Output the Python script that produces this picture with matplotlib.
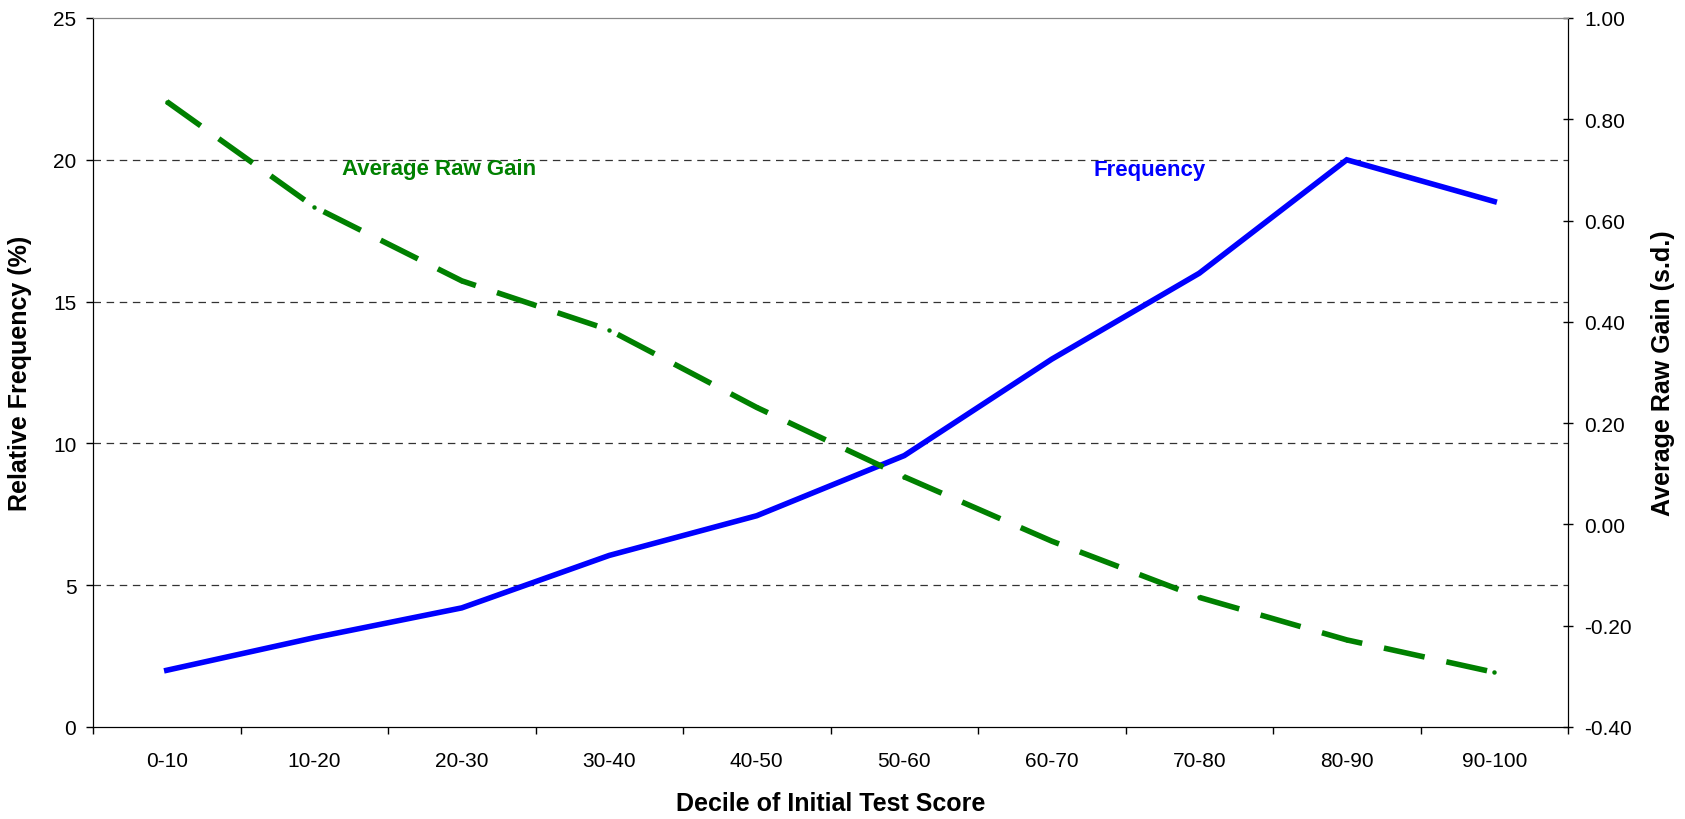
import matplotlib.pyplot as plt
import numpy as np

plt.rcParams['font.family'] = ['Liberation Sans', 'DejaVu Sans']

deciles = ['0-10', '10-20', '20-30', '30-40', '40-50',
           '50-60', '60-70', '70-80', '80-90', '90-100']
frequency = [2.0, 3.15, 4.2, 6.05, 7.45, 9.57, 12.97, 16.0, 20.0, 18.53]
raw_gain = [0.835, 0.627, 0.481, 0.384, 0.231, 0.094, -0.033, -0.144, -0.228, -0.292]

x = np.arange(len(deciles))

fig = plt.figure(figsize=(16.85, 8.2), dpi=100)
ax = fig.add_axes([93/1685, 1 - 728/820, (1568 - 93)/1685, (728 - 19)/820])
ax2 = ax.twinx()

# gridlines
for v in [5, 10, 15, 20]:
    ax.axhline(v, color='#333333', lw=0.9, ls=(0, (6, 4.5)), zorder=0)

ax.plot(x, frequency, color='#0000FF', lw=4, solid_joinstyle='miter', zorder=3)
ax2.plot(x, raw_gain, color='#008000', lw=4, dashes=(7.5, 4), dash_capstyle='butt',
         marker='o', markersize=3.2, markeredgewidth=0, zorder=3)

ax.set_xlim(-0.5, len(deciles) - 0.5)
ax.set_ylim(0, 25)
ax.set_yticks([0, 5, 10, 15, 20, 25])
ax2.set_ylim(-0.4, 1.0)
ax2.set_yticks(np.arange(-0.4, 1.01, 0.2))
ax2.set_yticklabels(['%.2f' % v for v in np.arange(-0.4, 1.01, 0.2)])

ax.set_xticks(x)
ax.set_xticklabels(deciles)
ax.set_xticks(np.arange(-0.5, len(deciles)), minor=True)
ax.tick_params(axis='x', which='major', length=0, pad=17, labelsize=15)
ax.tick_params(axis='x', which='minor', length=5, width=1, direction='out')
ax.tick_params(axis='y', length=5, width=1, direction='out', labelsize=15, pad=7)
ax2.tick_params(axis='y', length=7, width=1, direction='inout', labelsize=15, pad=8)

for a in (ax, ax2):
    a.spines['top'].set_color('#888888')
    a.spines['left'].set_color('black')
    a.spines['right'].set_color('black')
    a.spines['bottom'].set_color('black')

ax.set_ylabel('Relative Frequency (%)', fontsize=18, fontweight='bold')
ax.yaxis.set_label_coords(-0.0414, 0.5)
ax2.set_ylabel('Average Raw Gain (s.d.)', fontsize=18, fontweight='bold', rotation=90)
ax2.yaxis.set_label_coords(1.0563, 0.5)
ax.set_xlabel('Decile of Initial Test Score', fontsize=18, fontweight='bold')
ax.xaxis.set_label_coords(0.5, -0.09)

ax.text(1.19, 19.7, 'Average Raw Gain', color='#008000', fontsize=16,
        fontweight='bold', va='center', ha='left')
ax.text(6.28, 19.65, 'Frequency', color='#0000FF', fontsize=16,
        fontweight='bold', va='center', ha='left')

fig.savefig('out.png', dpi=100)
